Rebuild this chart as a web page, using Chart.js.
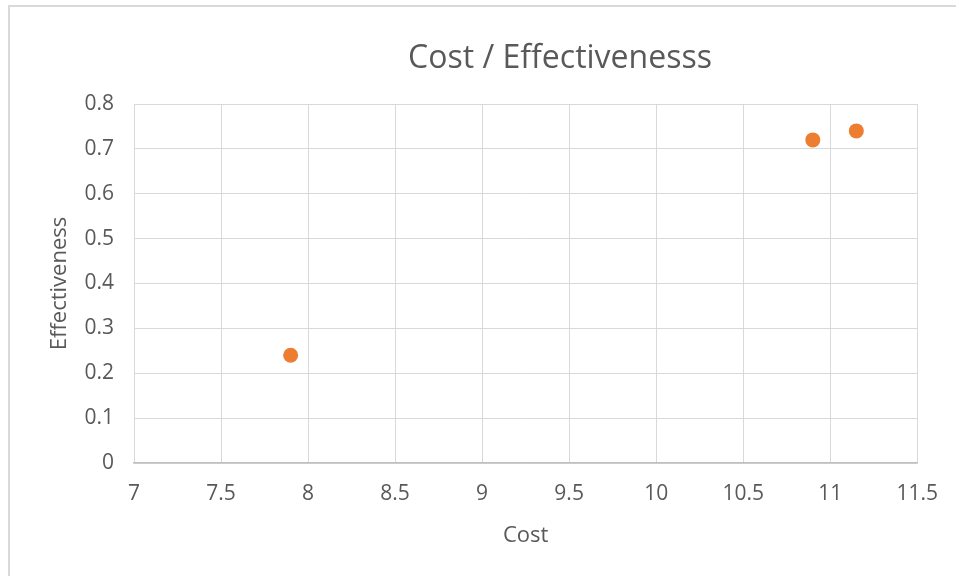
<!DOCTYPE html>
<html>
<head>
<meta charset="utf-8">
<script src="https://cdn.jsdelivr.net/npm/chart.js@4"></script>
<style>
  html, body { margin: 0; padding: 0; background: #fff; overflow: hidden; }
  #wrap { position: relative; width: 956px; height: 576px; }
  #frame { position: absolute; left: 8px; top: 5px; width: 980px; height: 600px;
           border: 2px solid #d9d9d9; box-sizing: border-box; pointer-events: none; }
  canvas { position: absolute; left: 0; top: 0; }
</style>
</head>
<body>
<div id="wrap">
  <canvas id="chart" width="956" height="576"></canvas>
  <div id="frame"></div>
</div>
<script>
// Cost vs effectiveness observations
const costValues = [7.9, 10.9, 11.15];
const effectivenessValues = [0.24, 0.72, 0.74];

const xMin = 7, xMax = 11.5, xStep = 0.5;
const yMin = 0, yMax = 0.8, yStep = 0.1;

const chartTitle = 'Cost / Effectivenesss';
const xAxisTitle = 'Cost';
const yAxisTitle = 'Effectiveness';

const points = costValues.map((c, i) => ({ x: c, y: effectivenessValues[i] }));

const textColor = '#595959';
const gridColor = '#d9d9d9';
const axisLineColor = '#bfbfbf';
const fontFamily = '"Open Sans", "Noto Sans", sans-serif';

// Chart heading, drawn centred slightly right of the plot centre
const headingPlugin = {
  id: 'heading',
  afterDraw(chart) {
    const { ctx } = chart;
    ctx.save();
    ctx.font = '32px ' + fontFamily;
    ctx.fillStyle = textColor;
    ctx.textAlign = 'center';
    ctx.textBaseline = 'middle';
    ctx.fillText(chartTitle, 560, 59);
    ctx.restore();
  }
};

const fmt = v => Number(Number(v).toFixed(2)).toString();

new Chart(document.getElementById('chart'), {
  type: 'scatter',
  data: {
    datasets: [{
      data: points,
      backgroundColor: '#ed7d31',
      borderColor: '#ed7d31',
      borderWidth: 0,
      pointRadius: 7.5,
      pointHoverRadius: 7.5
    }]
  },
  plugins: [headingPlugin],
  options: {
    responsive: false,
    animation: false,
    layout: { padding: { left: 0, right: 38, top: 104, bottom: 0 } },
    plugins: {
      legend: { display: false },
      tooltip: { enabled: false },
      title: { display: false }
    },
    scales: {
      x: {
        type: 'linear',
        min: xMin, max: xMax,
        afterFit(scale) { scale.height = 113; },
        ticks: {
          stepSize: xStep,
          color: textColor,
          font: { family: fontFamily, size: 21 },
          padding: 18,
          maxRotation: 0,
          callback: fmt
        },
        grid: { color: gridColor, drawTicks: false },
        border: { color: axisLineColor, width: 1.5 },
        title: {
          display: true,
          text: xAxisTitle,
          color: textColor,
          font: { family: fontFamily, size: 22 },
          padding: { top: 0, bottom: 27 }
        }
      },
      y: {
        type: 'linear',
        min: yMin, max: yMax,
        afterFit(scale) { scale.width = 134; },
        ticks: {
          stepSize: yStep,
          color: textColor,
          font: { family: fontFamily, size: 21 },
          padding: 20,
          callback: fmt
        },
        grid: { color: gridColor, drawTicks: false },
        border: { display: false },
        title: {
          display: true,
          text: yAxisTitle,
          color: textColor,
          font: { family: fontFamily, size: 22 },
          padding: { top: 47, bottom: 0 }
        }
      }
    }
  }
});
</script>
</body>
</html>
